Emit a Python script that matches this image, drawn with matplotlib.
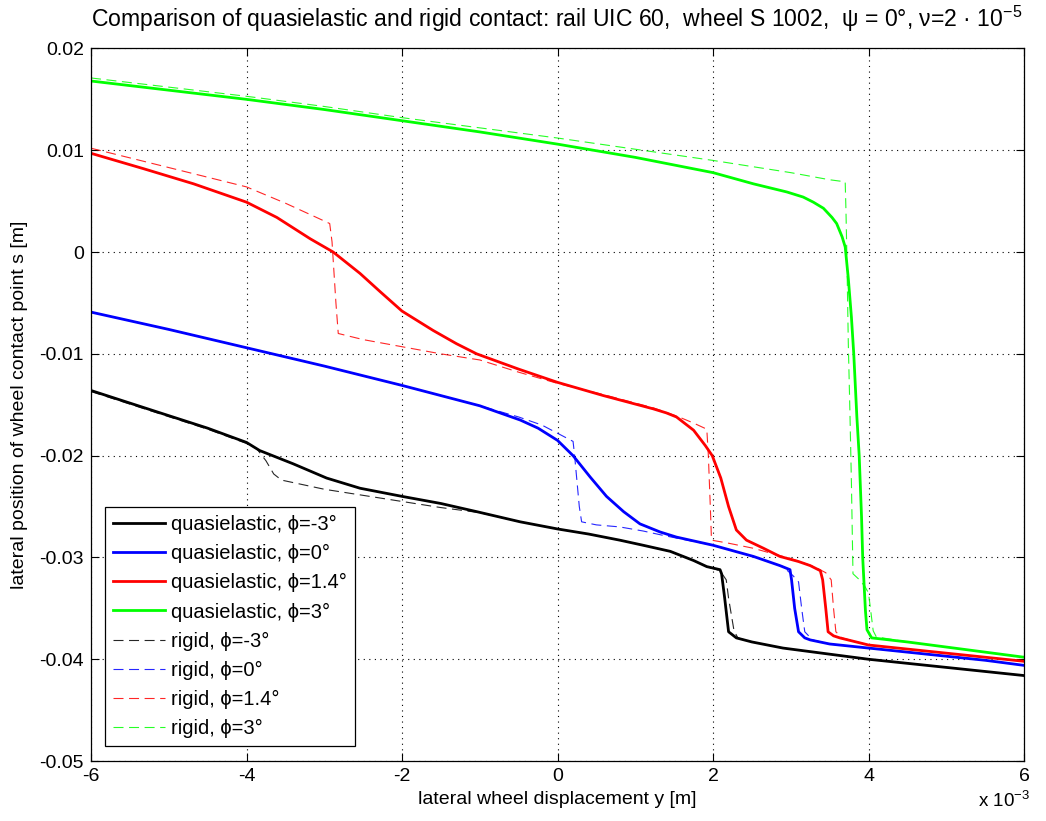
import matplotlib
matplotlib.use('Agg')
import matplotlib.pyplot as plt

plt.rcParams['font.family'] = ['Liberation Sans', 'DejaVu Sans']
plt.rcParams['axes.unicode_minus'] = False
plt.rcParams['mathtext.default'] = 'regular'

# ---------------- data (x in 1e-3 m, y in m) ----------------
# quasielastic, phi = -3
qe_m3_x = [-6, -5.11, -4.5, -4, -3.83, -3.40, -2.97, -2.54, -2, -1.5, -1.04, -0.48, 0, 0.4, 0.8, 1.1,
           1.45, 1.75, 1.92, 2.09, 2.11, 2.15, 2.20, 2.30, 2.5, 2.9, 3.5, 4, 4.5, 5, 5.5, 6]
qe_m3_y = [-0.0136, -0.0158, -0.0173, -0.0187, -0.0195, -0.0208, -0.0222, -0.0232, -0.0240, -0.0247,
           -0.0255, -0.0265, -0.0272, -0.0277, -0.0283, -0.0288, -0.0294, -0.0303, -0.0309, -0.0312,
           -0.0316, -0.0340, -0.0373, -0.0379, -0.0383, -0.0389, -0.0395, -0.0400, -0.0404, -0.0408,
           -0.0412, -0.0416]
# quasielastic, phi = 0
qe_0_x = [-6, -5, -4, -3, -2, -1.5, -1.0, -0.48, -0.25, 0, 0.2, 0.42, 0.63, 0.85, 1.06, 1.32, 1.53,
          2.0, 2.52, 2.86, 2.99, 3.01, 3.05, 3.10, 3.18, 3.25, 3.5, 4, 4.5, 5, 5.5, 6]
qe_0_y = [-0.0059, -0.0076, -0.0094, -0.0112, -0.0131, -0.0141, -0.0151, -0.0165, -0.0173, -0.0185,
          -0.0200, -0.0221, -0.0240, -0.0255, -0.0267, -0.0275, -0.0280, -0.0288, -0.0299, -0.0308,
          -0.0312, -0.0322, -0.0350, -0.0373, -0.0379, -0.0381, -0.0385, -0.0389, -0.0393, -0.0397,
          -0.0401, -0.0406]
# quasielastic, phi = 1.4
qe_14_x = [-6, -5.33, -4.68, -4.0, -3.61, -3.18, -2.885, -2.54, -2.28, -2.0, -1.6, -1.3, -1.04, -0.5,
           0, 0.59, 1.23, 1.4, 1.53, 1.75, 1.90, 1.99, 2.1, 2.20, 2.30, 2.43, 2.65, 2.86, 3.1, 3.25,
           3.38, 3.41, 3.45, 3.48, 3.55, 3.63, 4.0, 4.5, 5, 5.5, 6]
qe_14_y = [0.0097, 0.0082, 0.0067, 0.0049, 0.0034, 0.0013, 0.0000, -0.0021, -0.0039, -0.0058,
           -0.0077, -0.0090, -0.0100, -0.0115, -0.0128, -0.0141, -0.0154, -0.0158, -0.0162,
           -0.0175, -0.0190, -0.0200, -0.0222, -0.0250, -0.0273, -0.0283, -0.0291, -0.0299,
           -0.0304, -0.0308, -0.0313, -0.0322, -0.0350, -0.0373, -0.0377, -0.0379, -0.0386,
           -0.0390, -0.0394, -0.0398, -0.0402]
# quasielastic, phi = 3
qe_3_x = [-6, -5, -4, -3, -2, -1, 0, 1, 2, 2.52, 2.95, 3.16, 3.29, 3.42, 3.53, 3.59, 3.66, 3.70,
          3.74, 3.78, 3.81, 3.85, 3.88, 3.91, 3.925, 3.96, 3.98, 4.04, 4.5, 5, 5.5, 6]
qe_3_y = [0.0168, 0.0159, 0.0150, 0.0140, 0.0129, 0.0118, 0.0106, 0.0093, 0.0078, 0.0067, 0.0059,
          0.0054, 0.0049, 0.0043, 0.0034, 0.0028, 0.0015, 0.0005, -0.0026, -0.0064, -0.0100,
          -0.0162, -0.0200, -0.0260, -0.0300, -0.0352, -0.0371, -0.0379, -0.0383, -0.0388,
          -0.0393, -0.0398]

# rigid, phi = -3
rg_m3_x = [-6, -5.11, -4.5, -4, -3.87, -3.75, -3.65, -3.55, -3.0, -2.5, -2.0, -1.5, -1.0, -0.48, 0,
           0.4, 0.8, 1.1, 1.45, 1.75, 1.92, 2.09, 2.17, 2.20, 2.27, 2.32, 2.5, 2.9, 3.5, 4, 4.5, 5,
           5.5, 6]
rg_m3_y = [-0.0137, -0.0159, -0.0174, -0.0188, -0.0193, -0.0205, -0.0218, -0.0224, -0.0233, -0.0239,
           -0.0245, -0.0251, -0.0256, -0.0265, -0.0272, -0.0277, -0.0283, -0.0288, -0.0294, -0.0303,
           -0.0309, -0.0313, -0.0322, -0.0340, -0.0372, -0.0379, -0.0383, -0.0389, -0.0395, -0.0400,
           -0.0404, -0.0408, -0.0412, -0.0416]
# rigid, phi = 0
rg_0_x = [-6, -5, -4, -3, -2, -1.5, -1.0, -0.5, -0.2, 0.0, 0.20, 0.22, 0.28, 0.31, 0.5, 0.8, 1.1,
          1.4, 2.0, 2.52, 2.9, 3.03, 3.10, 3.14, 3.18, 3.28, 3.5, 4, 4.5, 5, 5.5, 6]
rg_0_y = [-0.0059, -0.0076, -0.0094, -0.0112, -0.0131, -0.0141, -0.0151, -0.0162, -0.0170, -0.0178,
          -0.0186, -0.0200, -0.0250, -0.0265, -0.0268, -0.0270, -0.0274, -0.0279, -0.0288, -0.0299,
          -0.0309, -0.0318, -0.0324, -0.0350, -0.0373, -0.0381, -0.0385, -0.0389, -0.0393, -0.0397,
          -0.0401, -0.0406]
# rigid, phi = 1.4
rg_14_x = [-6, -5, -4, -3.5, -3.1, -2.93, -2.90, -2.85, -2.82, -2.5, -2.0, -1.5, -1.0, -0.5, 0, 0.59,
           1.23, 1.53, 1.75, 1.92, 1.94, 1.97, 1.98, 2.2, 2.52, 2.8, 3.0, 3.3, 3.45, 3.52, 3.55,
           3.58, 3.66, 4, 4.5, 5, 5.5, 6]
rg_14_y = [0.0102, 0.0083, 0.0064, 0.0048, 0.0034, 0.0028, 0.0010, -0.0050, -0.0080, -0.0086,
           -0.0093, -0.0100, -0.0106, -0.0118, -0.0129, -0.0140, -0.0153, -0.0161, -0.0168,
           -0.0174, -0.0200, -0.0260, -0.0283, -0.0286, -0.0291, -0.0297, -0.0301, -0.0309,
           -0.0315, -0.0322, -0.0350, -0.0373, -0.0379, -0.0386, -0.0390, -0.0394, -0.0398, -0.0402]
# rigid, phi = 3
rg_3_x = [-6, -5, -4, -3, -2, -1, 0, 1, 2, 2.5, 3.0, 3.5, 3.70, 3.71, 3.72, 3.74, 3.76, 3.78, 3.80,
          3.87, 3.95, 4.0, 4.06, 4.1, 4.5, 5, 5.5, 6]
rg_3_y = [0.0171, 0.0162, 0.0153, 0.0143, 0.0132, 0.0122, 0.0112, 0.0101, 0.0090, 0.0084, 0.0078,
          0.0071, 0.0069, 0.0040, 0.0002, -0.0090, -0.0155, -0.0227, -0.0316, -0.0321, -0.0328,
          -0.0335, -0.0372, -0.0378, -0.0383, -0.0388, -0.0393, -0.0398]

x_ticks = [-6, -4, -2, 0, 2, 4, 6]
x_ticklabels = ['-6', '-4', '-2', '0', '2', '4', '6']
y_ticks = [-0.05, -0.04, -0.03, -0.02, -0.01, 0, 0.01, 0.02]
y_ticklabels = ['-0.05', '-0.04', '-0.03', '-0.02', '-0.01', '0', '0.01', '0.02']

solid_series = [
    (qe_m3_x, qe_m3_y, 'k', 'quasielastic, ϕ=-3°'),
    (qe_0_x, qe_0_y, '#0000ff', 'quasielastic, ϕ=0°'),
    (qe_14_x, qe_14_y, '#ff0000', 'quasielastic, ϕ=1.4°'),
    (qe_3_x, qe_3_y, '#00ff00', 'quasielastic, ϕ=3°'),
]
dashed_series = [
    (rg_m3_x, rg_m3_y, 'k', 'rigid, ϕ=-3°'),
    (rg_0_x, rg_0_y, '#0000ff', 'rigid, ϕ=0°'),
    (rg_14_x, rg_14_y, '#ff0000', 'rigid, ϕ=1.4°'),
    (rg_3_x, rg_3_y, '#00ff00', 'rigid, ϕ=3°'),
]

# ---------------- figure ----------------
fig = plt.figure(figsize=(10.46, 8.21), dpi=100)
ax = fig.add_axes([0.087, 0.073, 0.892, 0.868])

for xs, ys, c, lab in solid_series:
    ax.plot(xs, ys, color=c, lw=2.0, label=lab, solid_joinstyle='round')
for xs, ys, c, lab in dashed_series:
    ax.plot(xs, ys, color=c, lw=0.8, alpha=0.85, linestyle=(0, (9, 5)), label=lab)

ax.set_xlim(-6, 6)
ax.set_ylim(-0.05, 0.02)
ax.set_xticks(x_ticks)
ax.set_xticklabels(x_ticklabels)
ax.set_yticks(y_ticks)
ax.set_yticklabels(y_ticklabels)
ax.tick_params(direction='in', length=6, width=0.8, top=True, right=True,
               labelsize=14, pad=5)
for s in ax.spines.values():
    s.set_linewidth(0.9)
ax.grid(True, color='k', linestyle=(0, (1, 4)), linewidth=0.8)

ax.set_xlabel('lateral wheel displacement y [m]', fontsize=14, labelpad=4)
ax.set_ylabel('lateral position of wheel contact point s [m]', fontsize=14, labelpad=8)

fig.text(0.532, 0.977, 'Comparison of quasielastic and rigid contact: rail UIC 60,  wheel S 1002,  '
         'ψ = 0°, ν=2 · 10$^{-5}$', ha='center', va='center', fontsize=16.6)

fig.text(0.985, 0.012, 'x 10$^{-3}$', ha='right', va='bottom', fontsize=13.5)

leg = ax.legend(loc='lower left', bbox_to_anchor=(0.015, 0.021), borderaxespad=0,
                fontsize=14.5, fancybox=False, edgecolor='k', framealpha=1,
                handlelength=2.6, handletextpad=0.3, labelspacing=0.5, borderpad=0.4)
leg.get_frame().set_linewidth(0.9)

fig.savefig('out.png', dpi=100)
